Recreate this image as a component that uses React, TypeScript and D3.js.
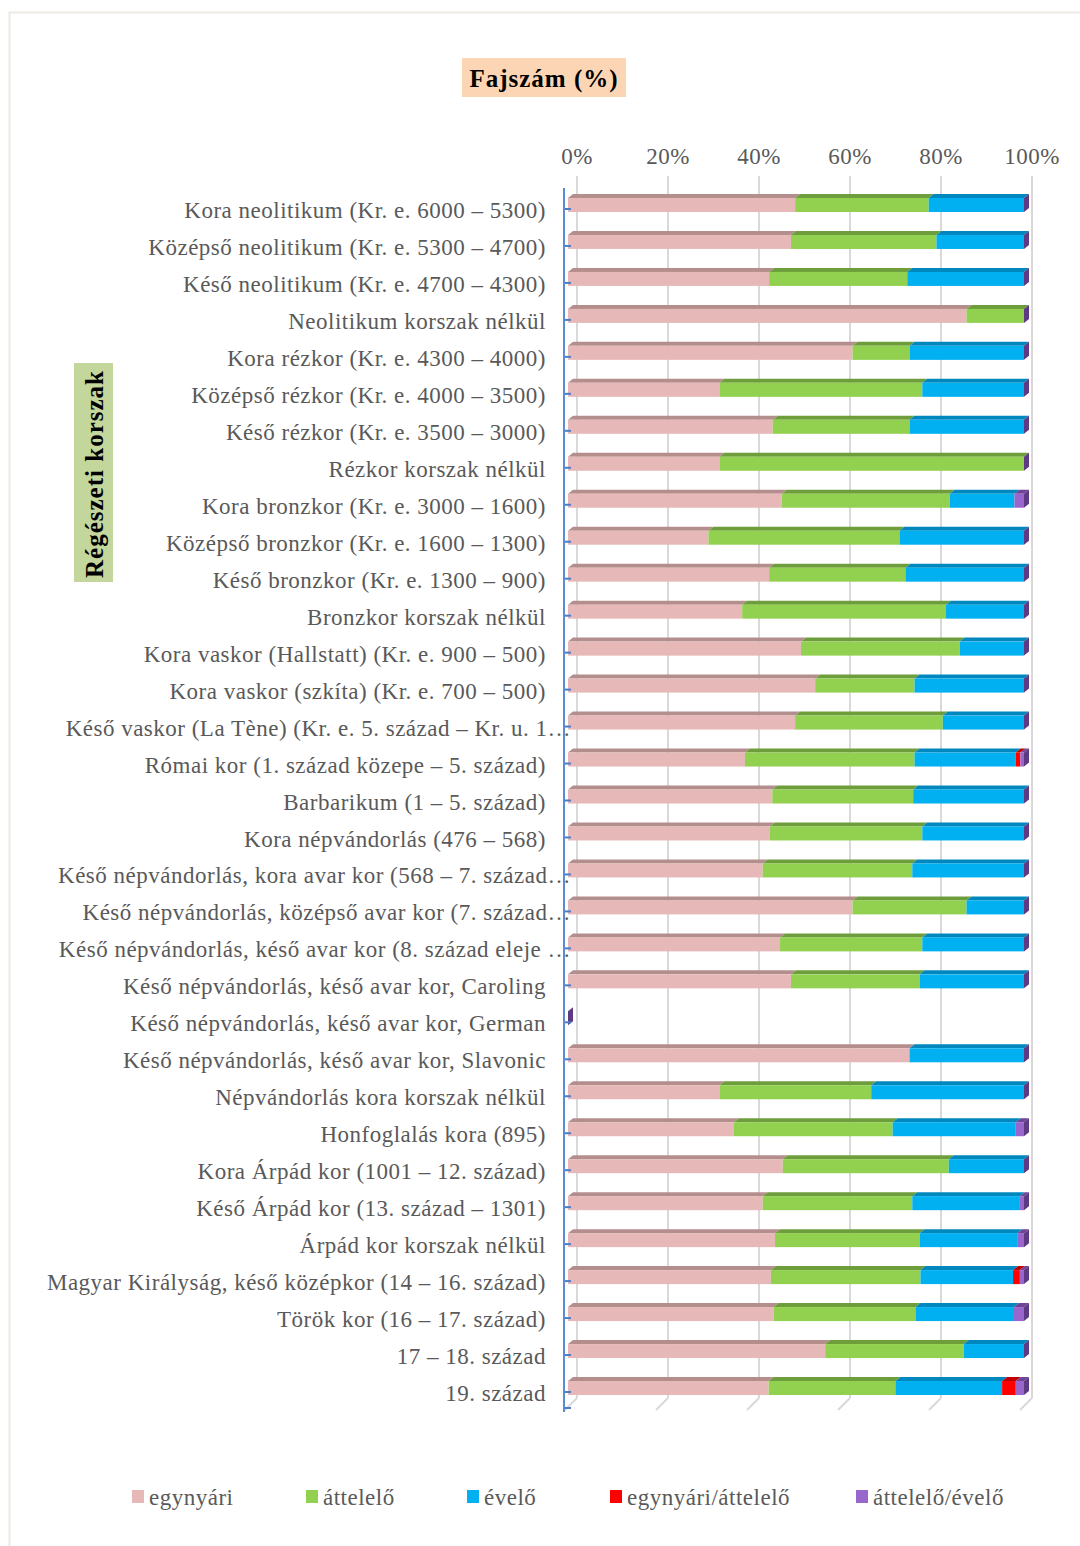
import React from "react";
import * as d3 from "d3";

const categories = [
  "Kora neolitikum (Kr. e. 6000 – 5300)",
  "Középső neolitikum (Kr. e. 5300 – 4700)",
  "Késő neolitikum (Kr. e. 4700 – 4300)",
  "Neolitikum korszak nélkül",
  "Kora rézkor (Kr. e. 4300 – 4000)",
  "Középső rézkor (Kr. e. 4000 – 3500)",
  "Késő rézkor (Kr. e. 3500 – 3000)",
  "Rézkor korszak nélkül",
  "Kora bronzkor (Kr. e. 3000 – 1600)",
  "Középső bronzkor (Kr. e. 1600 – 1300)",
  "Késő bronzkor (Kr. e. 1300 – 900)",
  "Bronzkor korszak nélkül",
  "Kora vaskor (Hallstatt) (Kr. e. 900 – 500)",
  "Kora vaskor (szkíta) (Kr. e. 700 – 500)",
  "Késő vaskor (La Tène) (Kr. e. 5. század – Kr. u. 1…",
  "Római kor (1. század közepe – 5. század)",
  "Barbarikum (1 – 5. század)",
  "Kora népvándorlás (476 – 568)",
  "Késő népvándorlás, kora avar kor (568 – 7. század…",
  "Késő népvándorlás, középső avar kor (7. század…",
  "Késő népvándorlás, késő avar kor (8. század eleje …",
  "Késő népvándorlás, késő avar kor, Caroling",
  "Késő népvándorlás, késő avar kor, German",
  "Késő népvándorlás, késő avar kor, Slavonic",
  "Népvándorlás kora korszak nélkül",
  "Honfoglalás kora (895)",
  "Kora Árpád kor (1001 – 12. század)",
  "Késő Árpád kor (13. század – 1301)",
  "Árpád kor korszak nélkül",
  "Magyar Királyság, késő középkor (14 – 16. század)",
  "Török kor (16 – 17. század)",
  "17 – 18. század",
  "19. század",
];

const egynyari = [49.8, 48.9, 44.1, 87.4, 62.4, 33.2, 44.9, 33.2, 46.9, 30.8, 44.1, 38.2, 51.1, 54.2, 49.8, 38.8, 44.8, 44.3, 42.7, 62.4, 46.5, 48.9, 0, 74.9, 33.2, 36.4, 47.1, 42.7, 45.4, 44.5, 45.1, 56.4, 44.0];
const attelelo = [29.3, 31.9, 30.3, 12.6, 12.5, 44.5, 30.0, 66.8, 36.8, 41.9, 29.9, 44.7, 34.8, 21.8, 32.4, 37.2, 30.9, 33.4, 32.8, 25.0, 31.2, 28.2, 0, 0, 33.3, 34.8, 36.4, 32.8, 31.7, 32.8, 31.1, 30.4, 27.8];
const evelo = [20.9, 19.2, 25.6, 0, 25.1, 22.3, 25.1, 0, 14.2, 27.3, 26.0, 17.1, 14.1, 24.0, 17.8, 22.2, 24.3, 22.3, 24.5, 12.6, 22.3, 22.9, 0, 25.1, 33.5, 27.0, 16.5, 23.6, 21.4, 20.3, 21.6, 13.2, 23.4];
const egynyariAttelelo = [0, 0, 0, 0, 0, 0, 0, 0, 0, 0, 0, 0, 0, 0, 0, 1.0, 0, 0, 0, 0, 0, 0, 0, 0, 0, 0, 0, 0, 0, 1.5, 0, 0, 3.0];
const attelelоEvelo = [0, 0, 0, 0, 0, 0, 0, 0, 2.1, 0, 0, 0, 0, 0, 0, 0.8, 0, 0, 0, 0, 0, 0, 0, 0, 0, 1.8, 0, 0.9, 1.5, 0.9, 2.2, 0, 1.8];

const seriesNames = ["egynyári", "áttelelő", "évelő", "egynyári/áttelelő", "áttelelő/évelő"];
const xTicks = [0, 20, 40, 60, 80, 100];

const frontColors = ["#E6B9B8", "#92D050", "#00B0F0", "#FF0000", "#9966CC"];
const topColors = ["#B48E8D", "#6E9E3C", "#0088BE", "#C00000", "#6E4496"];
const sideColor = "#5E3A84";

const FONT = "'Liberation Serif', 'Times New Roman', serif";
const TEXT = "#595959";

export default function App() {
  const W = 1080;
  const H = 1546;
  const seriesArrays = [egynyari, attelelo, evelo, egynyariAttelelo, attelelоEvelo];
  const rows = categories.map((c, i) => {
    const o: any = { cat: c };
    seriesNames.forEach((s, k) => (o[s] = seriesArrays[k][i]));
    return o;
  });
  const stacked = d3.stack<any>().keys(seriesNames)(rows);

  const y = d3.scaleBand<string>().domain(categories).range([191.5, 1411.5]).padding(0);
  const xFront = d3.scaleLinear().domain([0, 100]).range([568, 1024]);
  const xBack = d3.scaleLinear().domain([0, 100]).range([577, 1032]);

  const depthX = 5;
  const depthY = 4;
  const barH = 14;
  const gridTop = 176;
  const gridBottom = 1398;

  const center = (c: string) => (y(c) as number) + y.bandwidth() / 2;

  const legendX = [132, 306, 467, 610, 856];

  return (
    <svg
      width={W}
      height={H}
      style={{ position: "absolute", left: 0, top: 0, display: "block", background: "#fff" }}
      fontFamily={FONT}
    >
      <rect x={9.5} y={12.5} width={1080} height={1540} fill="#fff" stroke="#ECEAE3" strokeWidth={2} />

      {/* title */}
      <rect x={462} y={58} width={164} height={39} fill="#FCD5B4" />
      <text x={544} y={78} textAnchor="middle" dy="0.35em" fontSize={25} letterSpacing={1} fontWeight="bold" fill="#000">
        Fajszám (%)
      </text>

      {/* y axis title */}
      <rect x={74} y={363} width={39} height={219} fill="#C3D69B" />
      <text
        transform={`translate(94,474) rotate(-90)`}
        textAnchor="middle"
        dy="0.35em"
        fontSize={25}
        letterSpacing={1}
        fontWeight="bold"
        fill="#000"
      >
        Régészeti korszak
      </text>

      {/* gridlines (back wall + floor) */}
      {xTicks.map((t) => (
        <g key={t}>
          <line x1={xBack(t)} x2={xBack(t)} y1={gridTop} y2={gridBottom} stroke="#D9D9D9" strokeWidth={2} />
          <line x1={xBack(t)} x2={xBack(t) - 12} y1={gridBottom} y2={gridBottom + 12} stroke="#D9D9D9" strokeWidth={2} />
          <text x={xBack(t)} y={156} textAnchor="middle" dy="0.35em" fontSize={23} letterSpacing={0.5} fill={TEXT}>
            {t}%
          </text>
        </g>
      ))}

      {/* bars */}
      {categories.map((c, i) => {
        const cy = center(c);
        const top = cy - 12;
        const segs = stacked.map((s, k) => ({ k, x0: s[i][0], x1: s[i][1] }));
        const end = xFront(segs[segs.length - 1].x1);
        return (
          <g key={c}>
            {segs.map(({ k, x0, x1 }) => {
              if (x1 - x0 <= 0) return null;
              const a = xFront(x0);
              const b = xFront(x1);
              return (
                <g key={k}>
                  <path
                    d={`M${a},${top} L${a + depthX},${top - depthY} L${b + depthX},${top - depthY} L${b},${top} Z`}
                    fill={topColors[k]}
                  />
                  <rect x={a} y={top} width={b - a} height={barH} fill={frontColors[k]} />
                </g>
              );
            })}
            <path
              d={`M${end},${top} L${end + depthX},${top - depthY} L${end + depthX},${top - depthY + barH} L${end},${top + barH} Z`}
              fill={sideColor}
            />
          </g>
        );
      })}

      {/* category axis */}
      <line x1={564} x2={564} y1={188} y2={1412} stroke="#5B8BD0" strokeWidth={2} />
      {categories.map((c) => (
        <line key={c} x1={565} x2={571} y1={center(c) - 1} y2={center(c) - 1} stroke="#4A7CC7" strokeWidth={2} />
      ))}
      <line x1={565} x2={571} y1={1408} y2={1408} stroke="#4A7CC7" strokeWidth={2} />

      {/* category labels */}
      {categories.map((c) => {
        const trunc = c.endsWith("…");
        return (
          <text
            key={c}
            x={trunc ? 571 : 546}
            y={center(c)}
            dy="0.35em"
            textAnchor="end"
            fontSize={23}
            letterSpacing={0.5}
            fill={TEXT}
          >
            {c}
          </text>
        );
      })}

      {/* legend */}
      {seriesNames.map((s, k) => (
        <g key={s}>
          <rect x={legendX[k]} y={1490} width={12} height={13} fill={frontColors[k]} />
          <text x={legendX[k] + 17} y={1497} dy="0.35em" fontSize={23} letterSpacing={0.5} fill={TEXT}>
            {s}
          </text>
        </g>
      ))}
    </svg>
  );
}
